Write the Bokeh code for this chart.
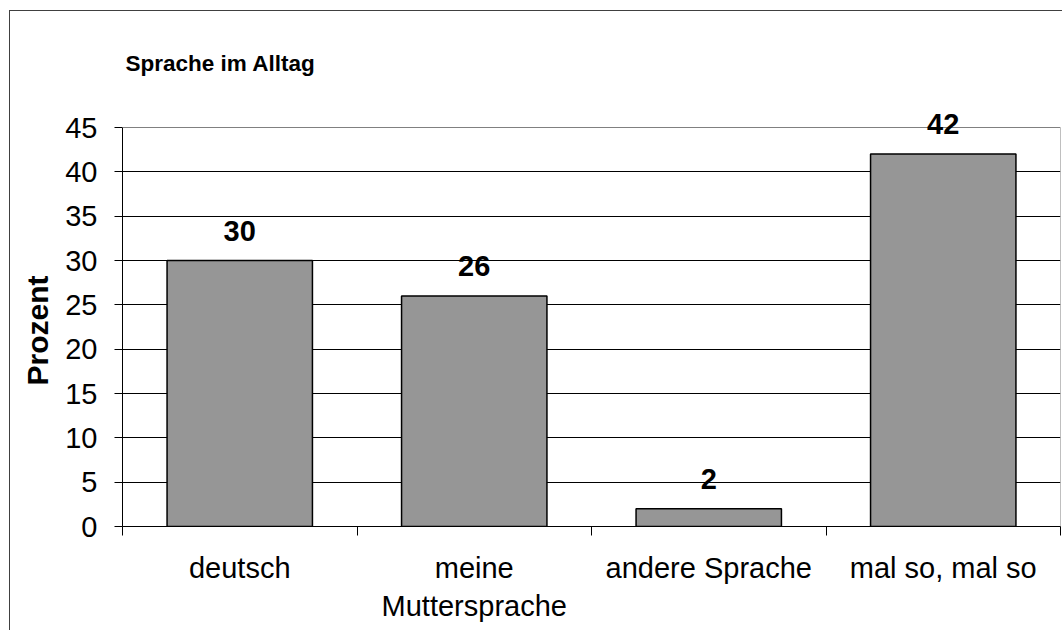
from bokeh.plotting import figure
from bokeh.models import ColumnDataSource, FixedTicker, Label, LabelSet, Span, Title
from bokeh.core.properties import value
from bokeh.embed import file_html
from bokeh.resources import INLINE

title_text = "Sprache im Alltag"
categories = ["deutsch", "meine\nMuttersprache", "andere Sprache", "mal so, mal so"]
values = [30, 26, 2, 42]
y_ticks = [0, 5, 10, 15, 20, 25, 30, 35, 40, 45]
y_label = "Prozent"

FONT = "Liberation Sans"
n = len(categories)
x_pos = [i + 0.5 for i in range(n)]
bounds = [float(i) for i in range(n + 1)]
y_max = y_ticks[-1]
# frame extends above the value axis so the title and top label stay visible
FRAME_H = 515
AXIS_H = 399
y_view_top = y_max * FRAME_H / AXIS_H

src = ColumnDataSource(dict(x=x_pos, top=values, label=[str(v) for v in values]))

p = figure(width=1053, height=620, x_range=(0, n), y_range=(0, y_view_top),
           output_backend="svg", toolbar_location=None,
           min_border_left=112, min_border_right=3, min_border_top=0, min_border_bottom=105)
p.background_fill_color = "white"
p.border_fill_color = "white"
p.outline_line_color = None
p.styles = {"border-left": "1px solid #404040", "border-top": "1px solid #404040",
            "margin-top": "10px", "margin-left": "9px"}

# plot-area frame (top and right, grey)
p.add_layout(Span(location=y_max, dimension="width", line_color="#808080", line_width=1))
p.segment(x0=[n], y0=[0], x1=[n], y1=[y_max], line_color="#808080", line_width=1)

p.vbar(x="x", top="top", width=0.62, bottom=0, source=src,
       fill_color="#969696", line_color="black", line_width=1.5)

labels = LabelSet(x="x", y="top", text="label", source=src, text_align="center",
                  text_baseline="alphabetic", y_offset=20, text_font=value(FONT),
                  text_font_size="29px", text_font_style="bold", text_color="black")
p.add_layout(labels)

title = Label(x=0, y=y_max, x_offset=3, y_offset=64, text=title_text,
              text_font=FONT, text_font_size="22.5px", text_font_style="bold",
              text_color="black", text_baseline="alphabetic", text_align="left")
p.add_layout(title)

# y axis title, placed along the value axis (not the whole frame)
ylab = Title(text=y_label, align="left", offset=141, standoff=17,
             text_font=FONT, text_font_size="30px", text_font_style="bold",
             text_color="black")
p.add_layout(ylab, "left")

# x axis
p.xaxis.ticker = FixedTicker(ticks=x_pos, minor_ticks=bounds)
p.xaxis.major_label_overrides = {x: c for x, c in zip(x_pos, categories)}
p.xaxis.major_tick_out = 0
p.xaxis.major_tick_in = 0
p.xaxis.minor_tick_out = 9
p.xaxis.minor_tick_in = 0
p.xaxis.minor_tick_line_color = "black"
p.xaxis.axis_line_color = "black"
p.xaxis.major_label_text_font = FONT
p.xaxis.major_label_text_font_size = "29px"
p.xaxis.major_label_text_color = "black"
p.xaxis.major_label_standoff = 16
p.xgrid.visible = False

# y axis
p.yaxis.ticker = FixedTicker(ticks=y_ticks)
p.yaxis.bounds = (0, y_max)
p.yaxis.major_tick_out = 8
p.yaxis.major_tick_in = 0
p.yaxis.minor_tick_out = 0
p.yaxis.minor_tick_in = 0
p.yaxis.major_tick_line_color = "black"
p.yaxis.axis_line_color = "black"
p.yaxis.major_label_text_font = FONT
p.yaxis.major_label_text_font_size = "29px"
p.yaxis.major_label_text_color = "black"
p.yaxis.major_label_standoff = 17

p.ygrid.ticker = FixedTicker(ticks=y_ticks[1:-1])
p.ygrid.grid_line_color = "black"
p.ygrid.grid_line_width = 1

open("out.html", "w").write(file_html(p, INLINE))
